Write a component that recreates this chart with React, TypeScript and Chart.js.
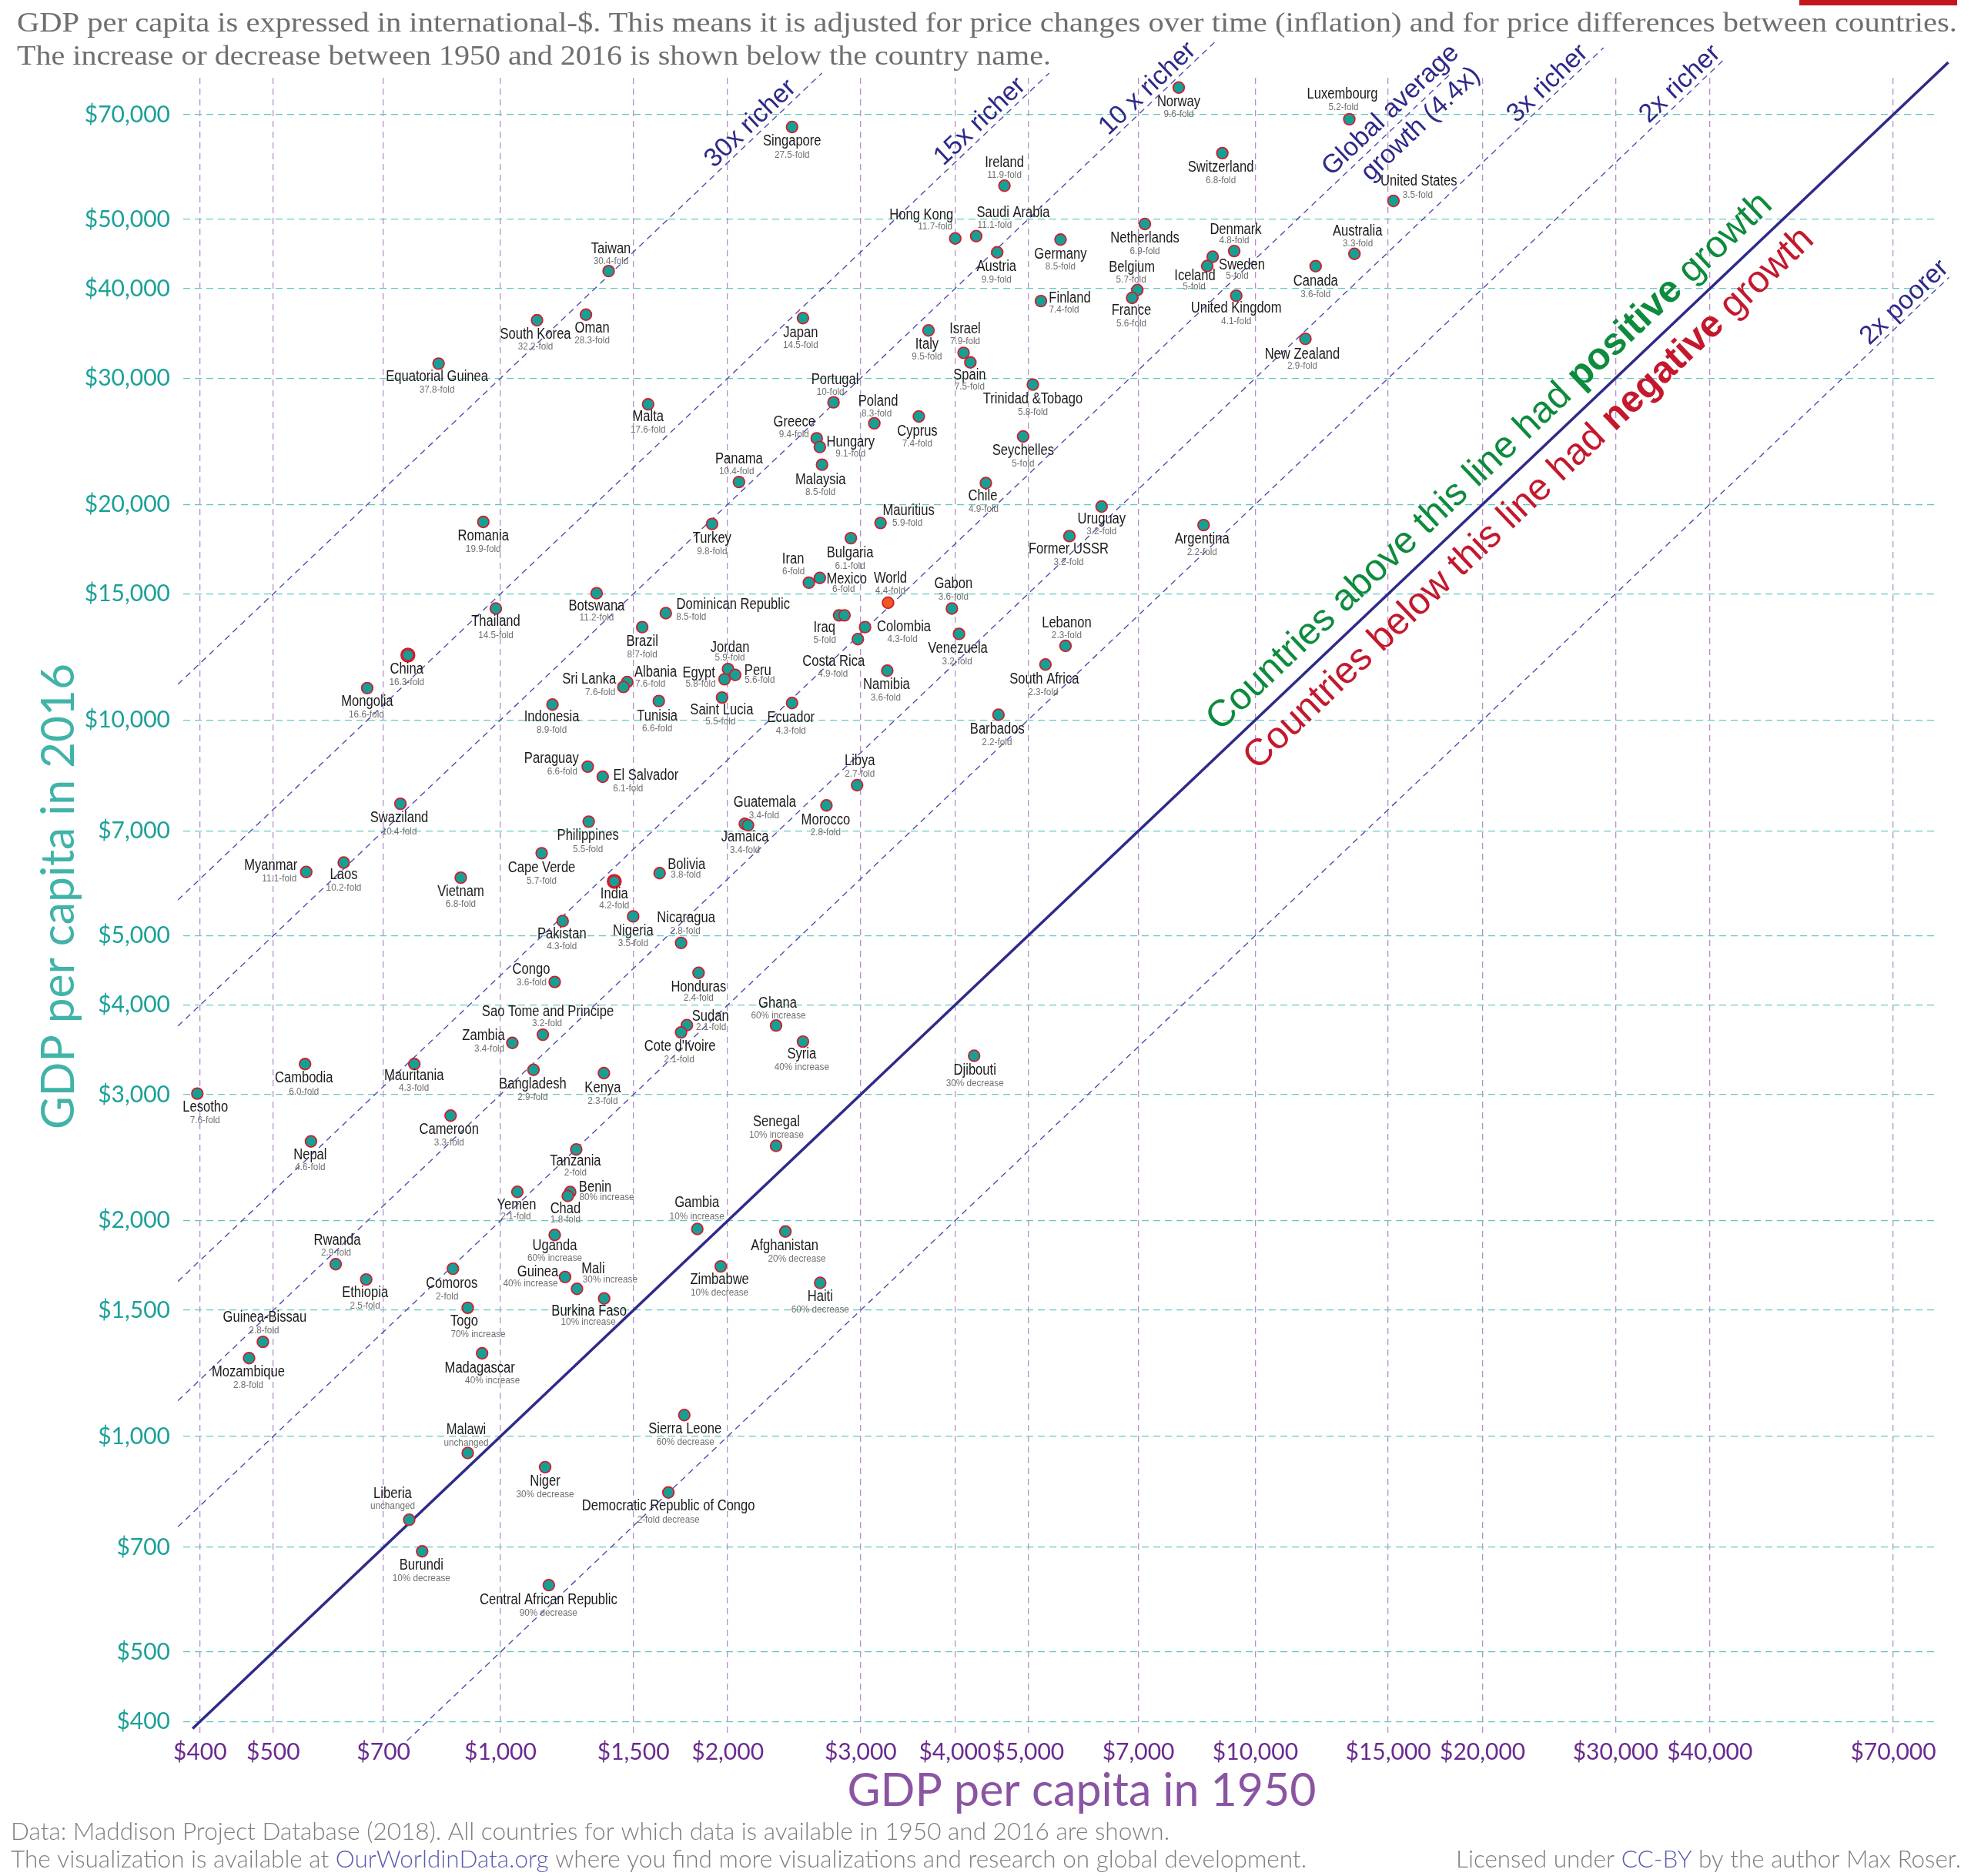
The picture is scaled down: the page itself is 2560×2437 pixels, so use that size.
import React, { useEffect, useRef } from "react";
import { Chart, registerables } from "chart.js";

Chart.register(...registerables);

// ---------------- data ----------------
const countryNames: string[] = [
  "Singapore", "Taiwan", "South Korea", "Oman", "Equatorial Guinea", "Malta", "Japan", "Hong Kong", "Saudi Arabia", "Ireland",
  "Austria", "Germany", "Norway", "Switzerland", "Netherlands", "Denmark", "Sweden", "Iceland", "Belgium", "France",
  "United Kingdom", "Finland", "Luxembourg", "United States", "Australia", "Canada", "New Zealand", "Italy", "Israel", "Spain",
  "Portugal", "Poland", "Cyprus", "Greece", "Hungary", "Trinidad &Tobago", "Seychelles", "Panama", "Malaysia", "Chile",
  "Romania", "Turkey", "Mauritius", "Uruguay", "Former USSR", "Argentina", "Botswana", "Thailand", "Brazil", "Dominican Republic",
  "Iran", "Mexico", "Bulgaria", "World", "Gabon", "Iraq", "", "Colombia", "Costa Rica", "Venezuela",
  "Lebanon", "South Africa", "Jordan", "Egypt", "Peru", "Albania", "Sri Lanka", "Namibia", "China", "Mongolia",
  "Indonesia", "Tunisia", "Saint Lucia", "Ecuador", "Barbados", "Paraguay", "El Salvador", "Libya", "Swaziland", "Morocco",
  "Guatemala", "Jamaica", "Philippines", "Cape Verde", "Myanmar", "Laos", "Vietnam", "India", "Bolivia", "Pakistan",
  "Nigeria", "Nicaragua", "Honduras", "Congo", "Sao Tome and Principe", "Zambia", "Sudan", "Cote d'Ivoire", "Ghana", "Syria",
  "Djibouti", "Cambodia", "Mauritania", "Bangladesh", "Kenya", "Lesotho", "Cameroon", "Senegal", "Nepal", "Tanzania",
  "Yemen", "Benin", "Chad", "Gambia", "Afghanistan", "Uganda", "Rwanda", "Zimbabwe", "Comoros", "Guinea",
  "Ethiopia", "Haiti", "Mali", "Burkina Faso", "Togo", "Guinea-Bissau", "Mozambique", "Madagascar", "Sierra Leone", "Malawi",
  "Niger", "Democratic Republic of Congo", "Liberia", "Burundi", "Central African Republic",
];

const gdp1950: number[] = [
  2434, 1391, 1118, 1298, 828, 1569, 2516, 4004, 4268, 4652,
  4551, 5520, 7917, 9043, 7140, 9376, 8780, 8636, 6977, 6868,
  9435, 5200, 13320, 15240, 13530, 12020, 11650, 3690, 4107, 4193,
  2762, 3128, 3583, 2624, 2649, 5073, 4925, 2070, 2667, 4396,
  949, 1907, 3188, 6257, 5672, 8540, 1341, 986, 1541, 1656,
  2562, 2649, 2912, 3262, 3963, 2809, 2856, 3041, 2975, 4050,
  5605, 5272, 2002, 1981, 2046, 1472, 1455, 3254, 754, 666,
  1172, 1621, 1966, 2434, 4568, 1305, 1366, 2968, 737, 2703,
  2107, 2128, 1309, 1134, 553, 620, 886, 1415, 1625, 1209,
  1499, 1735, 1830, 1180, 1138, 1037, 1766, 1735, 2318, 2516,
  4241, 551, 769, 1106, 1371, 396.7, 859, 2318, 561, 1260,
  1053, 1237, 1228, 1823, 2385, 1180, 605, 1958, 865, 1218,
  664, 2652, 1263, 1372, 905, 484.5, 464.5, 945.6, 1752, 905,
  1146, 1669, 757, 787.5, 1159,
];

const gdp2016: number[] = [
  67270, 42330, 36140, 36800, 31440, 27580, 36390, 47010, 47370, 55700,
  44960, 46830, 76360, 61850, 49250, 45150, 44330, 43030, 39830, 38840,
  39110, 38440, 68970, 53040, 44750, 43000, 34050, 34980, 32550, 31560,
  27760, 25950, 26530, 24730, 24050, 29390, 24880, 21490, 22720, 21420,
  18900, 18780, 18840, 19860, 18060, 18710, 15030, 14310, 13480, 14100,
  15550, 15790, 17940, 14580, 14310, 14000, 14000, 13480, 12970, 13190,
  12690, 11950, 11780, 11400, 11560, 11300, 11120, 11720, 12320, 11080,
  10510, 10630, 10750, 10560, 10170, 8609, 8333, 8111, 7640, 7601,
  7163, 7132, 7213, 6517, 6136, 6324, 6024, 5953, 6112, 5240,
  5320, 4885, 4437, 4309, 3637, 3542, 3750, 3664, 3746, 3557,
  3399, 3309, 3309, 3249, 3214, 3010, 2804, 2544, 2581, 2515,
  2195, 2193, 2166, 1948, 1932, 1911, 1739, 1727, 1714, 1669,
  1656, 1638, 1607, 1558, 1512, 1355, 1286, 1306, 1071, 948,
  906, 835, 765, 691, 620,
];

const changeLabels: string[] = [
  "27.5-fold", "30.4-fold", "32.2-fold", "28.3-fold", "37.8-fold", "17.6-fold", "14.5-fold", "11.7-fold", "11.1-fold", "11.9-fold",
  "9.9-fold", "8.5-fold", "9.6-fold", "6.8-fold", "6.9-fold", "4.8-fold", "5-fold", "5-fold", "5.7-fold", "5.6-fold",
  "4.1-fold", "7.4-fold", "5.2-fold", "3.5-fold", "3.3-fold", "3.6-fold", "2.9-fold", "9.5-fold", "7.9-fold", "7.5-fold",
  "10-fold", "8.3-fold", "7.4-fold", "9.4-fold", "9.1-fold", "5.8-fold", "5-fold", "10.4-fold", "8.5-fold", "4.9-fold",
  "19.9-fold", "9.8-fold", "5.9-fold", "3.2-fold", "3.2-fold", "2.2-fold", "11.2-fold", "14.5-fold", "8.7-fold", "8.5-fold",
  "6-fold", "6-fold", "6.1-fold", "4.4-fold", "3.6-fold", "5-fold", "", "4.3-fold", "4.9-fold", "3.2-fold",
  "2.3-fold", "2.3-fold", "5.9-fold", "5.8-fold", "5.6-fold", "7.6-fold", "7.6-fold", "3.6-fold", "16.3-fold", "16.6-fold",
  "8.9-fold", "6.6-fold", "5.5-fold", "4.3-fold", "2.2-fold", "6.6-fold", "6.1-fold", "2.7-fold", "10.4-fold", "2.8-fold",
  "3.4-fold", "3.4-fold", "5.5-fold", "5.7-fold", "11.1-fold", "10.2-fold", "6.8-fold", "4.2-fold", "3.8-fold", "4.3-fold",
  "3.5-fold", "2.8-fold", "2.4-fold", "3.6-fold", "3.2-fold", "3.4-fold", "2.1-fold", "2.1-fold", "60% increase", "40% increase",
  "30% decrease", "6.0-fold", "4.3-fold", "2.9-fold", "2.3-fold", "7.6-fold", "3.3-fold", "10% increase", "4.6-fold", "2-fold",
  "2.1-fold", "80% increase", "1.8-fold", "10% increase", "20% decrease", "60% increase", "2.9-fold", "10% decrease", "2-fold", "40% increase",
  "2.5-fold", "60% decrease", "30% increase", "10% increase", "70% increase", "2.8-fold", "2.8-fold", "40% increase", "60% decrease", "unchanged",
  "30% decrease", "2-fold decrease", "unchanged", "10% decrease", "90% decrease",
];

// label placement relative to each marker (px): [nameDx, nameDy, changeDx, changeDy]
const labelOffsets: number[][] = [
  [0, 19, 0, 36], [3, -29, 3, -13], [-2, 19, -2, 34], [8, 17.5, 8, 34], [-2, 17, -2, 34], [0, 16, 0, 33], [-3, 19, -3, 35], [-44, -30, -26, -15], [48, -30, 24, -14], [0, -30, 0, -14],
  [-1, 19, -1, 35], [0, 19, 0, 35], [0, 19, 0, 35], [-2, 19, -2, 35], [0, 19, 0, 35], [2, -27, 0, -13.5], [38, 11.5, 32, 25], [-16, 13.5, -17, 27], [-7, -29, -8, -13], [-1, 16.5, -1, 33],
  [0, 16.5, 0, 33], [37.5, -3.5, 30, 11], [-9, -32, -7.5, -16], [33, -25, 31.5, -7.5], [4, -29.5, 4.5, -13], [0, 20, 0, 36], [-4, 20, -4, 35.5], [-2, 18.5, -2, 34.5], [2, -31, 2, -15], [-1, 16.5, -1, 31],
  [2, -29, -4, -13], [5, -28.5, 3, -13], [-2, 19.5, -2, 35.5], [-29, -21, -29.5, -5], [40, -6, 40, 9], [0, 19.5, 0, 35.5], [0, 18.5, 0, 35], [0, -30, -3, -14], [-2, 20, -2, 36], [-4, 17.5, -3, 34],
  [0, 19, 0, 35.5], [0, 19, 0, 36], [36.5, -16, 35, 0], [0, 16.5, 0, 32], [-1, 17, -1, 34], [-2, 18.5, -2, 35.5], [0, 16.5, 0, 32], [0, 17.5, 0, 34.5], [0, 19, 0, 36], [87.5, -11, 33, 5],
  [-20.5, -30, -20, -15], [35, 2, 31, 15], [-1, 19.5, -1, 36], [3, -31.5, 3, -15.5], [2, -31.5, 2, -15], [-19, 16, -18.5, 31.5], [0, 0, 0, 0], [50.5, -0.5, 48.5, 16], [-31.5, 29, -32.5, 45.5], [-1.5, 19, -2.5, 35.5],
  [1.5, -29.5, 1.5, -13.5], [-1.5, 19, -3, 35.5], [2.5, -27.5, 2.5, -14.5], [-33.5, -7.5, -31, 6], [29.5, -5, 32, 7], [37, -12, 30, 2], [-44.5, -9.5, -30, 7], [-1, 18.5, -2, 35.5], [-1.5, 18.5, -1.5, 35.5], [0, 17.5, -1, 34.5],
  [-1, 16.5, -1, 33], [-2, 20, -2, 36], [-0.5, 16.5, -2, 31], [-1.5, 19.5, -1.5, 36], [-1.5, 19, -2, 35.5], [-47, -10, -33, 6], [56, -1, 33, 15], [3.5, -31.5, 3.5, -15], [-1.5, 19, -1.5, 36], [-1, 19, -1, 35.5],
  [26, -28, 25, -11], [-4, 16, -4, 32], [-1, 18.5, -1, 36], [0, 19, 0, 35.5], [-46, -8, -35, 8.5], [0, 16, 0, 32.5], [0, 18, 0, 34], [0, 16.5, 0, 31.5], [35, -11, 34, 2], [-1, 17, -1, 33],
  [0, 19.5, 0, 35], [6.5, -32, 5.5, -15.5], [0, 18.5, 0, 33], [-30.5, -15.5, -30, 1], [6.5, -29.5, 5.5, -14.5], [-37.5, -9, -30, 7.5], [30.5, -11.5, 31.5, 3], [-1.5, 19, -2.5, 35.5], [2, -28.5, 3, -13], [-1.5, 16.5, -1.5, 33],
  [1, 19, 1, 36], [-1.5, 18.5, -1.5, 35.5], [-0.5, 15.5, -0.5, 30.5], [-1, 19, -1, 36], [-1.5, 20, -1.5, 36], [10.5, 18.5, 10, 35], [-2, 18.5, -2, 35.5], [0.5, -30.5, 0.5, -14.5], [-1, 17.5, -1, 34], [-1, 15.5, -1, 30],
  [-1, 17.5, -2, 32.5], [32.5, -5.5, 47.5, 7], [-3, 17.5, -3, 30.5], [-0.5, -33.5, -0.5, -16.5], [-1, 18.5, 15, 36], [0, 14.5, 0, 30.5], [2, -31, 0.5, -15], [-1.5, 17.5, -1.5, 34.5], [-1.5, 19.5, -7.5, 36], [-35.5, -6, -45, 8.5],
  [-1.5, 18, -1.5, 34], [0, 18, 0, 35], [21, -25.5, 43, -11.5], [-19.5, 16.5, -20.5, 30.5], [-4.5, 18, 13.5, 34.5], [2.5, -31.5, 1.5, -15], [-1, 18, -1, 35], [-3, 19.5, 13.5, 35.5], [1, 18.5, 1.5, 35], [-2, -30, -2, -13.5],
  [0, 18.5, 0, 35.5], [0, 18, 0, 35], [-21.5, -34, -21.5, -17.5], [-1, 18, -1, 34.5], [-0.5, 19, -0.5, 36],
];

const xTickValues = [400, 500, 700, 1000, 1500, 2000, 3000, 4000, 5000, 7000, 10000, 15000, 20000, 30000, 40000, 70000];
const yTickValues = [400, 500, 700, 1000, 1500, 2000, 3000, 4000, 5000, 7000, 10000, 15000, 20000, 30000, 40000, 50000, 70000];

// growth-multiple guide lines y = k * x
const guideFactors = [30, 15, 10, 4.4, 3, 2, 0.5];
const guideFromX = [374, 374, 374, 374, 374, 374, 752];
const guideToX = [2667, 5333, 8850, 18180, 28930, 41690, 83000];
const parityRange = [391, 82800];

const guideTexts = ["30x richer", "15x richer", "10 x richer", "Global average", "growth (4.4x)", "3x richer", "2x richer", "2x poorer"];
const guideTextFactor = [30, 15, 10, 4.4, 4.4, 3, 2, 0.5];
const guideTextAtX = [2201, 4432, 7389, 15590, 16020, 25040, 37500, 74360];
const guideTextOffset = [16, 16, 16, 19, -21, 16, 16, 16];

const subtitleLines = [
  "GDP per capita is expressed in international-$. This means it is adjusted for price changes over time (inflation) and for price differences between countries.",
  "The increase or decrease between 1950 and 2016 is shown below the country name.",
];

// ---------------- helpers ----------------
const SANS = '"Liberation Sans", Arial, Helvetica, sans-serif';

function scaledText(ctx: CanvasRenderingContext2D, t: string, x: number, y: number, sx: number) {
  ctx.save();
  ctx.translate(x, y);
  ctx.scale(sx, 1);
  ctx.fillText(t, 0, 0);
  ctx.restore();
}

function fittedSegments(ctx: CanvasRenderingContext2D, segs: string[][], x: number, y: number, targetW: number) {
  let total = 0;
  for (const s of segs) total += ctx.measureText(s[0]).width;
  const sx = targetW / total;
  ctx.save();
  ctx.translate(x, y);
  ctx.scale(sx, 1);
  ctx.textAlign = "left";
  let cx = 0;
  for (const s of segs) {
    ctx.fillStyle = s[1];
    ctx.fillText(s[0], cx, 0);
    cx += ctx.measureText(s[0]).width;
  }
  ctx.restore();
}

function rotatedSegments(ctx: CanvasRenderingContext2D, segs: string[][], x: number, y: number, ang: number) {
  ctx.save();
  ctx.translate(x, y);
  ctx.rotate(ang);
  ctx.textAlign = "left";
  ctx.textBaseline = "alphabetic";
  let cx = 0;
  for (const s of segs) {
    ctx.font = s[1];
    ctx.fillStyle = s[2];
    ctx.fillText(s[0], cx, 0);
    cx += ctx.measureText(s[0]).width;
  }
  ctx.restore();
}

const overlayPlugin = {
  id: "overlay",
  afterDatasetsDraw(chart: any) {
    const ctx: CanvasRenderingContext2D = chart.ctx;
    const xs = chart.scales.x;
    const ys = chart.scales.y;
    const P = (x: number, y: number) => [xs.getPixelForValue(x), ys.getPixelForValue(y)];
    const a0 = P(1000, 1000);
    const a1 = P(10000, 10000);
    const ang = Math.atan2(a1[1] - a0[1], a1[0] - a0[0]);
    const nx = Math.sin(ang);
    const ny = -Math.cos(ang);

    ctx.save();
    // guide labels
    ctx.fillStyle = "#2d2a8a";
    ctx.font = "34px " + SANS;
    ctx.textAlign = "center";
    ctx.textBaseline = "middle";
    guideTexts.forEach((t, j) => {
      const v = guideTextAtX[j];
      const p = P(v, v * guideTextFactor[j]);
      const d = guideTextOffset[j];
      ctx.save();
      ctx.translate(p[0] + d * nx, p[1] + d * ny);
      ctx.rotate(ang);
      ctx.fillText(t, 0, 0);
      ctx.restore();
    });

    // positive / negative growth texts along parity line
    const greenAt = 9280;
    const pg = P(greenAt, greenAt);
    const dG = 20;
    rotatedSegments(ctx, [
      ["Countries above this line had ", "49px " + SANS, "#0e8b3d"],
      ["positive", "bold 49px " + SANS, "#0e8b3d"],
      [" growth", "49px " + SANS, "#0e8b3d"],
    ], pg[0] + dG * nx, pg[1] + dG * ny, ang);
    const redAt = 9280;
    const pr = P(redAt, redAt);
    const dR = -50;
    rotatedSegments(ctx, [
      ["Countries below this line had ", "49px " + SANS, "#c4182d"],
      ["negative", "bold 49px " + SANS, "#c4182d"],
      [" growth", "49px " + SANS, "#c4182d"],
    ], pr[0] + dR * nx, pr[1] + dR * ny, ang);

    // country labels
    ctx.textAlign = "center";
    ctx.textBaseline = "middle";
    countryNames.forEach((name, i) => {
      if (!name) return;
      const p = P(gdp1950[i], gdp2016[i]);
      const o = labelOffsets[i];
      ctx.font = "19.5px " + SANS;
      ctx.fillStyle = "#1a1a1a";
      scaledText(ctx, name, p[0] + o[0], p[1] + o[1], 0.85);
      ctx.font = "13.5px " + SANS;
      ctx.fillStyle = "#707070";
      scaledText(ctx, changeLabels[i], p[0] + o[2], p[1] + o[3], 0.87);
    });
    ctx.restore();
  },
  afterDraw(chart: any) {
    const ctx: CanvasRenderingContext2D = chart.ctx;
    ctx.save();
    // logo remnant
    ctx.fillStyle = "#c4161c";
    ctx.fillRect(2337, 0, 205, 7);

    // subtitle
    ctx.textBaseline = "alphabetic";
    ctx.font = '35px "Liberation Serif", "DejaVu Serif", serif';
    fittedSegments(ctx, [[subtitleLines[0], "#6f6f6f"]], 22, 41, 2520);
    fittedSegments(ctx, [[subtitleLines[1], "#6f6f6f"]], 22, 84, 1343);

    // axis titles
    ctx.font = "60px Lato, sans-serif";
    ctx.fillStyle = "#8b54a3";
    const xt = "GDP per capita in 1950";
    const xw = ctx.measureText(xt).width;
    ctx.save();
    ctx.translate(1405, 2346);
    ctx.scale(609 / xw, 1);
    ctx.textAlign = "center";
    ctx.fillText(xt, 0, 0);
    ctx.restore();

    ctx.fillStyle = "#41b3a8";
    const yt = "GDP per capita in 2016";
    const yw = ctx.measureText(yt).width;
    ctx.save();
    ctx.translate(96, 1164.5);
    ctx.rotate(-Math.PI / 2);
    ctx.scale(605 / yw, 1);
    ctx.textAlign = "center";
    ctx.fillText(yt, 0, 0);
    ctx.restore();

    // footer
    ctx.font = "300 31px Lato, sans-serif";
    const gray = "#7d7d7d";
    const link = "#5a5cb0";
    fittedSegments(ctx, [["Data: Maddison Project Database (2018). All countries for which data is available in 1950 and 2016 are shown.", gray]], 14, 2390, 1505);
    fittedSegments(ctx, [
      ["The visualization is available at ", gray],
      ["OurWorldinData.org", link],
      [" where you find more visualizations and research on global development.", gray],
    ], 14, 2426, 1683);
    fittedSegments(ctx, [
      ["Licensed under ", gray],
      ["CC-BY", link],
      [" by the author Max Roser.", gray],
    ], 1891, 2426, 656);
    ctx.restore();
  },
};

export default function App() {
  const ref = useRef<HTMLCanvasElement | null>(null);
  useEffect(() => {
    document.body.style.margin = "0";
    const canvas = ref.current;
    if (!canvas) return;

    const isBig = (n: string) => n === "China" || n === "India";
    const datasets: any[] = [
      {
        type: "scatter",
        data: countryNames.map((_, i) => ({ x: gdp1950[i], y: gdp2016[i] })),
        order: 0,
        pointRadius: countryNames.map((n) => (isBig(n) ? 8 : 7.3)),
        pointBorderWidth: countryNames.map((n) => (isBig(n) ? 3.5 : 1.8)),
        pointBackgroundColor: countryNames.map((n) => (n === "World" ? "#ee5a24" : "#16a095")),
        pointBorderColor: "#d01e2e",
        clip: false,
      },
      {
        type: "line",
        data: [
          { x: parityRange[0], y: parityRange[0] },
          { x: parityRange[1], y: parityRange[1] },
        ],
        borderColor: "#2e2b8a",
        borderWidth: 3.6,
        pointRadius: 0,
        fill: false,
        clip: false,
        order: 1,
      },
      ...guideFactors.map((k, j) => ({
        type: "line",
        data: [
          { x: guideFromX[j], y: guideFromX[j] * k },
          { x: guideToX[j], y: guideToX[j] * k },
        ],
        borderColor: "#524cab",
        borderWidth: 1.4,
        borderDash: [8, 6],
        pointRadius: 0,
        fill: false,
        clip: false,
        order: 2,
      })),
    ];

    const fmt = (v: any) => "$" + Number(v).toLocaleString("en-US");

    const chart = new Chart(canvas, {
      type: "scatter",
      data: { datasets },
      options: {
        responsive: false,
        animation: false,
        devicePixelRatio: 1,
        events: [],
        layout: { padding: { top: 101, right: 42, left: 0, bottom: 0 } },
        plugins: { legend: { display: false }, tooltip: { enabled: false }, title: { display: false } },
        scales: {
          x: {
            type: "logarithmic",
            min: 380,
            max: 80400,
            afterBuildTicks: (s: any) => {
              s.ticks = xTickValues.map((v) => ({ value: v }));
            },
            afterFit: (s: any) => {
              s.height = 180;
            },
            ticks: {
              callback: fmt,
              color: "#6a2b8f",
              font: { family: "Lato", size: 30 },
              padding: 1,
              autoSkip: false,
              maxRotation: 0,
              minRotation: 0,
            },
            grid: { color: "#b58fca", lineWidth: 1.3, drawTicks: false },
            border: { display: false, dash: [8, 6] },
          },
          y: {
            type: "logarithmic",
            min: 380,
            max: 78800,
            afterBuildTicks: (s: any) => {
              s.ticks = yTickValues.map((v) => ({ value: v }));
            },
            afterFit: (s: any) => {
              s.width = 238;
            },
            ticks: {
              callback: fmt,
              color: "#1ca198",
              font: { family: "Lato", size: 30 },
              padding: 17,
              autoSkip: false,
            },
            grid: { color: "#64c9c2", lineWidth: 1.3, drawTicks: false },
            border: { display: false, dash: [9, 6] },
          },
        },
      },
      plugins: [overlayPlugin],
    } as any);

    return () => chart.destroy();
  }, []);

  return <canvas ref={ref} width={2560} height={2437} style={{ display: "block", width: "2560px", height: "2437px" }} />;
}
